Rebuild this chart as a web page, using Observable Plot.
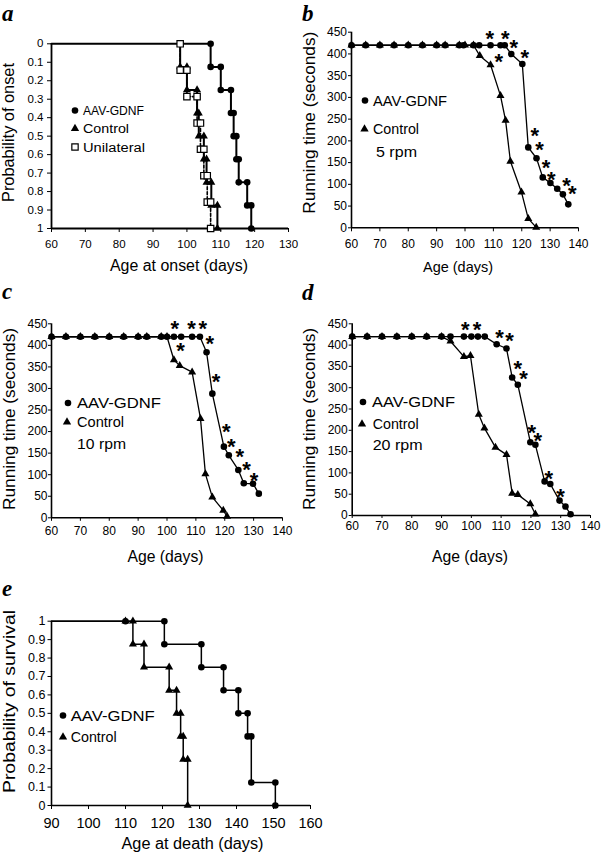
<!DOCTYPE html>
<html><head><meta charset="utf-8">
<script src="https://cdn.jsdelivr.net/npm/d3@7"></script>
<script src="https://cdn.jsdelivr.net/npm/@observablehq/plot@0.6"></script>
<style>
html,body{margin:0;padding:0;background:#fff;}
#fig{position:relative;width:603px;height:853px;overflow:hidden;background:#fff;}
#fig svg{position:absolute;}
</style></head><body><div id="fig"></div>
<script>
const FONT = '"Liberation Sans", Arial, Helvetica, sans-serif';

// ---------- Panel a: probability of onset (step curves) ----------
const aGdnfDays = [107, 110, 113, 113.8, 114.6, 115.3, 117.8, 119];
const aGdnfProb = [0.125, 0.25, 0.375, 0.5, 0.625, 0.75, 0.875, 1];
const aCtrlDays = [98, 100, 103, 103.5, 105, 105.8, 107.2, 109];
const aCtrlProb = [0.125, 0.25, 0.375, 0.5, 0.625, 0.75, 0.875, 1];
const aUniDays = [98, 100, 103, 104, 105, 106, 107];
const aUniProb = [0.143, 0.286, 0.429, 0.571, 0.714, 0.857, 1];
const aXTicks = [60, 70, 80, 90, 100, 110, 120, 130];
const aYTicks = [0, 0.1, 0.2, 0.3, 0.4, 0.5, 0.6, 0.7, 0.8, 0.9, 1];

// ---------- Panel b: 5 rpm ----------
const bGdnfDays = [60, 65, 70, 75, 80, 85, 90, 93, 98, 99.5, 103, 105, 109, 112.5, 114, 116.3, 120.2, 122.3, 125.2, 127.4, 130.1, 132.5, 134.5, 136.4];
const bGdnfTime = [420, 420, 420, 420, 420, 420, 420, 420, 420, 420, 420, 420, 420, 420, 420, 400, 377, 185, 160, 116, 103, 90, 77, 54];
const bCtrlDays = [60, 65, 70, 75, 80, 85, 90, 93, 98, 100, 103, 105.2, 109, 112.5, 114.3, 116, 119.9, 122.3, 125.1];
const bCtrlTime = [420, 420, 420, 420, 420, 420, 420, 420, 420, 420, 420, 396, 375, 304, 247, 153, 82, 21, 1];
const bStarDays = [108.7, 114.2, 111.9, 117.2, 121.1, 124.6, 126.3, 128.6, 130.4, 135.8, 137.8];
const bStarVals = [448, 448, 396, 427, 404, 225, 193, 152, 124, 109, 92];

// ---------- Panel c: 10 rpm ----------
const cGdnfDays = [60, 65, 70, 75, 80, 85, 90, 93, 98, 100, 102.4, 104.9, 108.7, 111.4, 113.7, 115.7, 119.7, 121.4, 124.7, 126.6, 129.8, 131.8];
const cGdnfTime = [420, 420, 420, 420, 420, 420, 420, 420, 420, 420, 420, 420, 420, 420, 384, 288, 165, 145, 111, 80, 79, 56];
const cCtrlDays = [60, 65, 70, 75, 80, 85, 90, 93, 98, 100, 102.4, 104.4, 108.7, 111.6, 113.3, 115.7, 119.5, 120.8];
const cCtrlTime = [420, 420, 420, 420, 420, 420, 420, 420, 420, 420, 366, 353, 338, 230, 102, 48, 17, 3];
const cStarDays = [102.7, 108.5, 112.4, 104.7, 114.8, 117, 120.5, 122.3, 125.2, 127.5, 130.1];
const cStarVals = [451, 451, 451, 401, 418, 328, 214, 179, 155, 124, 100];

// ---------- Panel d: 20 rpm ----------
const dGdnfDays = [60, 65, 70, 75, 80, 85, 90, 93, 97.5, 100, 102.2, 104.5, 108.5, 111.8, 113.7, 115.6, 119.8, 121.5, 124.6, 126.5, 129.6, 131.6, 133.3];
const dGdnfTime = [420, 420, 420, 420, 420, 420, 420, 420, 420, 420, 420, 420, 402, 392, 324, 307, 172, 166, 80, 74, 35, 21, 3];
const dCtrlDays = [60, 65, 70, 75, 80, 85, 90, 93, 97.5, 99.7, 102.5, 104.4, 108.1, 111.8, 113.7, 115.6, 119.8, 121.5];
const dCtrlTime = [420, 420, 420, 420, 420, 420, 420, 409, 373, 375, 237, 205, 160, 143, 52, 49, 27, 3];
const dStarDays = [98, 101.9, 109.5, 112.8, 115.6, 117.5, 120.3, 122.3, 126, 129.9];
const dStarVals = [450, 450, 431, 424, 359, 335, 208, 189, 99, 58];

const runXTicks = [60, 70, 80, 90, 100, 110, 120, 130, 140];
const runYTicks = [0, 50, 100, 150, 200, 250, 300, 350, 400, 450];

// ---------- Panel e: probability of survival ----------
const eGdnfDays = [110, 120.5, 130.5, 136.5, 140.5, 143, 144, 150.5];
const eGdnfSurv = [1, 0.875, 0.75, 0.625, 0.5, 0.375, 0.125, 0];
const eCtrlDays = [110, 112, 115, 121.8, 123.8, 124.9, 125.6, 126.8];
const eCtrlSurv = [1, 0.875, 0.75, 0.625, 0.5, 0.375, 0.25, 0];
const eXTicks = [90, 100, 110, 120, 130, 140, 150, 160];
const eYTicks = [0, 0.1, 0.2, 0.3, 0.4, 0.5, 0.6, 0.7, 0.8, 0.9, 1];

// ---------- helpers ----------
const fig = document.getElementById("fig");
const fmt1 = d => String(+(+d).toFixed(1));

function stepPoints(days, vals, startVal) {
  const pts = [];
  let prev = startVal;
  days.forEach((d, i) => {
    if (vals[i] !== prev) pts.push({x: d, y: prev});
    pts.push({x: d, y: vals[i]});
    prev = vals[i];
  });
  return pts;
}
const zip = (xs, ys) => xs.map((x, i) => ({x, y: ys[i]}));

function makePanel(o) {
  const svg = Plot.plot({
    width: o.width, height: o.height,
    marginLeft: o.ml, marginRight: o.mr, marginTop: o.mt, marginBottom: o.mb,
    style: {fontFamily: FONT, fontSize: "12px", background: "transparent", color: "black", overflow: "visible"},
    x: {domain: o.xDomain, ticks: o.xTicks, tickSize: o.xTS, tickPadding: o.xTP, tickFormat: d => String(d), label: null},
    y: {domain: o.yDomain, ticks: o.yTicks, reverse: !!o.yReverse, tickSize: o.yTS, tickPadding: o.yTP, tickFormat: o.yFormat || (d => String(d)), label: null},
    marks: o.marks
  });
  svg.style.left = o.left + "px";
  svg.style.top = o.top + "px";
  svg.querySelectorAll('[aria-label^="x-axis"] text').forEach(t => t.style.fontSize = o.xFont + "px");
  svg.querySelectorAll('[aria-label^="y-axis"] text').forEach(t => t.style.fontSize = o.yFont + "px");
  fig.appendChild(svg);
}

function runningMarks(gd, gt, cd, ct, sd, sv) {
  const g = zip(gd, gt), c = zip(cd, ct), s = zip(sd, sv);
  return [
    Plot.line(c, {x: "x", y: "y", stroke: "black", strokeWidth: 1.3}),
    Plot.line(g, {x: "x", y: "y", stroke: "black", strokeWidth: 1.3}),
    Plot.ruleX([60], {stroke: "black", strokeWidth: 1.6}),
    Plot.ruleY([0], {stroke: "black", strokeWidth: 1.6}),
    Plot.dot(g, {x: "x", y: "y", r: 3.3, fill: "black", symbol: "circle"}),
    Plot.dot(c, {x: "x", y: "y", r: 3, fill: "black", symbol: "triangle"}),
    Plot.text(s, {x: "x", y: "y", text: () => "*", fontSize: 22, fontWeight: "bold", dy: 6, fill: "black"})
  ];
}

// ---------- Panel a ----------
{
  const g = stepPoints(aGdnfDays, aGdnfProb, 0);
  const c = stepPoints(aCtrlDays, aCtrlProb, 0);
  const u = stepPoints(aUniDays, aUniProb, 0);
  makePanel({
    left: 0, top: 30, width: 300, height: 250, ml: 51, mr: 12, mt: 13.3, mb: 52,
    xDomain: [60, 130], xTicks: aXTicks, xTS: 4, xTP: 7, xFont: 11.5,
    yDomain: [0, 1], yTicks: aYTicks, yReverse: true, yTS: 4, yTP: 4, yFont: 11.5, yFormat: fmt1,
    marks: [
      Plot.line(u, {x: "x", y: "y", stroke: "black", strokeWidth: 1.6, strokeDasharray: "3,2"}),
      Plot.line(c, {x: "x", y: "y", stroke: "black", strokeWidth: 2}),
      Plot.line([{x: 60, y: 0}, ...g], {x: "x", y: "y", stroke: "black", strokeWidth: 2}),
      Plot.ruleX([60], {stroke: "black", strokeWidth: 1.8}),
      Plot.ruleY([1], {stroke: "black", strokeWidth: 1.8}),
      Plot.dot(g, {x: "x", y: "y", r: 3.3, fill: "black", symbol: "circle"}),
      Plot.dot(c.slice(1), {x: "x", y: "y", r: 3, fill: "black", symbol: "triangle"}),
      Plot.dot(u, {x: "x", y: "y", r: 3.6, fill: "white", stroke: "black", strokeWidth: 1.2, symbol: "square"})
    ]
  });
}

// ---------- Panel b ----------
makePanel({
  left: 300, top: 20, width: 303, height: 260, ml: 51, mr: 25, mt: 11.7, mb: 52.7,
  xDomain: [60, 140], xTicks: runXTicks, xTS: 4, xTP: 8, xFont: 12,
  yDomain: [0, 450], yTicks: runYTicks, yTS: 3, yTP: 1.5, yFont: 12,
  marks: runningMarks(bGdnfDays, bGdnfTime, bCtrlDays, bCtrlTime, bStarDays, bStarVals)
});

// ---------- Panel c ----------
makePanel({
  left: 0, top: 300, width: 300, height: 260, ml: 51, mr: 18, mt: 23.3, mb: 42.7,
  xDomain: [60, 140], xTicks: runXTicks, xTS: 3.5, xTP: 5, xFont: 12,
  yDomain: [0, 450], yTicks: runYTicks, yTS: 3, yTP: 1, yFont: 12,
  marks: runningMarks(cGdnfDays, cGdnfTime, cCtrlDays, cCtrlTime, cStarDays, cStarVals)
});

// ---------- Panel d ----------
makePanel({
  left: 300, top: 300, width: 303, height: 260, ml: 51.7, mr: 13, mt: 23.3, mb: 45,
  xDomain: [60, 140], xTicks: runXTicks, xTS: 3, xTP: 2.5, xFont: 12,
  yDomain: [0, 450], yTicks: runYTicks, yTS: 3, yTP: 1.5, yFont: 12,
  marks: runningMarks(dGdnfDays, dGdnfTime, dCtrlDays, dCtrlTime, dStarDays, dStarVals)
});

// ---------- Panel e ----------
{
  const g = stepPoints(eGdnfDays, eGdnfSurv, 1);
  const c = stepPoints(eCtrlDays, eCtrlSurv, 1);
  makePanel({
    left: 0, top: 590, width: 330, height: 263, ml: 51, mr: 20, mt: 30.7, mb: 48,
    xDomain: [90, 160], xTicks: eXTicks, xTS: 4, xTP: 8, xFont: 14.5,
    yDomain: [0, 1], yTicks: eYTicks, yTS: 3.5, yTP: 2.5, yFont: 12.5, yFormat: fmt1,
    marks: [
      Plot.line([{x: 90, y: 1}, ...c], {x: "x", y: "y", stroke: "black", strokeWidth: 1.5}),
      Plot.line([{x: 90, y: 1}, ...g], {x: "x", y: "y", stroke: "black", strokeWidth: 1.5}),
      Plot.ruleX([90], {stroke: "black", strokeWidth: 1.6}),
      Plot.ruleY([0], {stroke: "black", strokeWidth: 1.6}),
      Plot.dot(g, {x: "x", y: "y", r: 3.3, fill: "black", symbol: "circle"}),
      Plot.dot(c, {x: "x", y: "y", r: 3, fill: "black", symbol: "triangle"})
    ]
  });
}

// ---------- Overlay: panel letters, axis titles, legends ----------
const ov = d3.create("svg").attr("width", 603).attr("height", 853)
  .style("left", "0px").style("top", "0px")
  .attr("font-family", FONT);

function txt(x, y, s, size, len, opts = {}) {
  const t = ov.append("text").attr("x", x).attr("y", y).attr("font-size", size)
    .attr("fill", "black").text(s);
  if (len) t.attr("textLength", len).attr("lengthAdjust", "spacingAndGlyphs");
  if (opts.anchor) t.attr("text-anchor", opts.anchor);
  if (opts.serif) t.attr("font-family", '"Liberation Serif", "DejaVu Serif", serif')
    .attr("font-weight", "bold").attr("font-style", "italic");
  return t;
}
function vtxt(x, y, s, size, len) {
  ov.append("text").attr("transform", `translate(${x},${y}) rotate(-90)`)
    .attr("text-anchor", "middle").attr("font-size", size).attr("fill", "black")
    .attr("textLength", len).attr("lengthAdjust", "spacingAndGlyphs").text(s);
}
const sym = (type, x, y, size, fill, stroke) => ov.append("path")
  .attr("d", d3.symbol(type, size)()).attr("transform", `translate(${x},${y})`)
  .attr("fill", fill).attr("stroke", stroke || "none").attr("stroke-width", 1.2);

// panel letters
txt(2, 20.8, "a", 23, null, {serif: true});
txt(302, 20.8, "b", 23, null, {serif: true});
txt(2, 298.5, "c", 23, null, {serif: true});
txt(302, 299.5, "d", 23, null, {serif: true});
txt(2, 595.5, "e", 23, null, {serif: true});

// axis titles
txt(179, 271, "Age at onset (days)", 16, 138, {anchor: "middle"});
txt(458, 272, "Age (days)", 15, 70, {anchor: "middle"});
txt(165.5, 562, "Age (days)", 16, 76, {anchor: "middle"});
txt(470, 562, "Age (days)", 16, 76, {anchor: "middle"});
txt(192.5, 849, "Age at death (days)", 16, 142, {anchor: "middle"});
vtxt(14, 132.5, "Probability of onset", 16, 139);
vtxt(315, 122.7, "Running time (seconds)", 16.5, 182);
vtxt(15, 419, "Running time (seconds)", 16.5, 182);
vtxt(315, 419, "Running time (seconds)", 16.5, 182);
vtxt(15, 701.5, "Probability of survival", 17, 183);

// legends
const legendNames = ["AAV-GDNF", "Control", "Unilateral"];
const CIRC = 34, TRI = 30, SQ = 40;
// a
sym(d3.symbolCircle, 75, 110.5, CIRC, "black"); txt(83, 115, legendNames[0], 12.5, 61);
sym(d3.symbolTriangle, 75, 128.5, TRI, "black"); txt(83, 133.3, legendNames[1], 12.5, 46);
sym(d3.symbolSquare, 75, 147, SQ, "white", "black"); txt(83, 151.7, legendNames[2], 12.5, 62);
// b
sym(d3.symbolCircle, 365, 100.5, CIRC, "black"); txt(373, 106, legendNames[0], 14.5, 74);
sym(d3.symbolTriangle, 364.5, 129, TRI, "black"); txt(373, 134, legendNames[1], 14.5, 46);
txt(376, 157, "5 rpm", 14.5, 41);
// c
sym(d3.symbolCircle, 68, 403, CIRC, "black"); txt(77, 408.3, legendNames[0], 15, 84);
sym(d3.symbolTriangle, 67, 422, TRI, "black"); txt(77, 427.3, legendNames[1], 15, 47);
txt(77, 449, "10 rpm", 15, 49);
// d
sym(d3.symbolCircle, 363, 402, CIRC, "black"); txt(372, 407.3, legendNames[0], 15, 83);
sym(d3.symbolTriangle, 362, 424, TRI, "black"); txt(372.7, 429, legendNames[1], 15, 46);
txt(372.7, 449.5, "20 rpm", 15, 50);
// e
sym(d3.symbolCircle, 63, 715.5, CIRC, "black"); txt(70.7, 720.7, legendNames[0], 15, 84);
sym(d3.symbolTriangle, 63, 737, TRI, "black"); txt(70.7, 742, legendNames[1], 15, 46);

fig.appendChild(ov.node());
</script></body></html>
